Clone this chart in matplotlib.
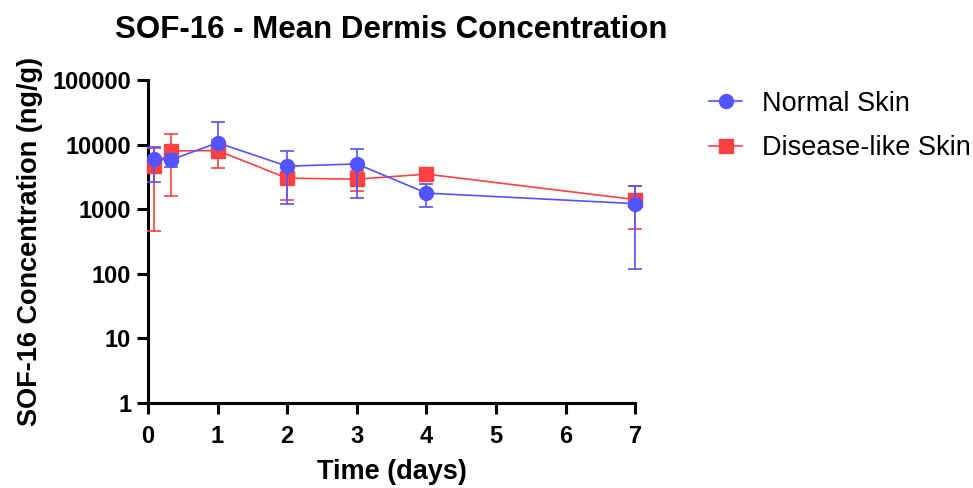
import matplotlib.pyplot as plt
from matplotlib.lines import Line2D
import numpy as np

plt.rcParams['font.family'] = ['Liberation Sans', 'DejaVu Sans']

# time points (days)
tiempo = [0.083, 0.333, 1, 2, 3, 4, 7]

# mean +/- SD (ng/g)
normal_media = [5940, 5820, 10700, 4640, 5030, 1780, 1220]
normal_sd = [3330, 1250, 11900, 3440, 3550, 710, 1100]

enfermo_media = [4600, 8000, 8090, 3030, 2920, 3500, 1410]
enfermo_sd = [4140, 6400, 3790, 1620, 1030, 300, 920]

azul = '#5353FF'
rojo = '#FF4141'


def errores(media, sd):
    media = np.array(media, dtype=float)
    sd = np.array(sd, dtype=float)
    # on a log axis the negative part of the bar is not drawn
    abajo = np.where(media - sd > 0, sd, 0)
    return [abajo, sd]


fig = plt.figure(figsize=(9.73, 4.88), dpi=100)
ax = fig.add_axes([0.152, 0.174, 0.501, 0.662])

ax.errorbar(tiempo, enfermo_media, yerr=errores(enfermo_media, enfermo_sd),
            color=rojo, marker='s', markersize=9.5, linewidth=1.2,
            elinewidth=1.2, capsize=4.7, capthick=1.2, clip_on=False,
            zorder=3)
ax.errorbar(tiempo, normal_media, yerr=errores(normal_media, normal_sd),
            color=azul, marker='o', markersize=10, linewidth=1.2,
            elinewidth=1.2, capsize=4.7, capthick=1.2, clip_on=False,
            zorder=4)

ax.set_yscale('log')
ax.set_ylim(1, 100000)
ax.set_xlim(0, 7)
ax.set_yticks([1, 10, 100, 1000, 10000, 100000])
ax.set_yticklabels(['1', '10', '100', '1000', '10000', '100000'])
ax.yaxis.set_minor_locator(plt.NullLocator())
ax.set_xticks(range(8))

for lado in ['top', 'right']:
    ax.spines[lado].set_visible(False)
for lado in ['left', 'bottom']:
    ax.spines[lado].set_linewidth(2.2)

ax.tick_params(axis='both', width=2.2, length=8, labelsize=17)
ax.tick_params(axis='x', pad=8)
ax.tick_params(axis='y', pad=4)
for t in ax.get_xticklabels() + ax.get_yticklabels():
    t.set_fontweight('bold')

ax.set_xlabel('Time (days)', fontsize=19.5, fontweight='bold', labelpad=8)
ax.set_ylabel('SOF-16 Concentration (ng/g)', fontsize=19.5, fontweight='bold',
              labelpad=7)
ax.set_title('SOF-16 - Mean Dermis Concentration', fontsize=22.5,
             fontweight='bold', pad=30)

manijas = [
    Line2D([], [], color=azul, marker='o', markersize=10, linewidth=1.2),
    Line2D([], [], color=rojo, marker='s', markersize=9.5, linewidth=1.2),
]
fig.legend(manijas, ['Normal Skin', 'Disease-like Skin'], loc='upper left',
           bbox_to_anchor=(0.729, 0.814), frameon=False, fontsize=19.5,
           handlelength=1.2, labelspacing=0.68, handletextpad=0.75,
           borderaxespad=0, borderpad=0)

fig.savefig('out.png', dpi=100)
